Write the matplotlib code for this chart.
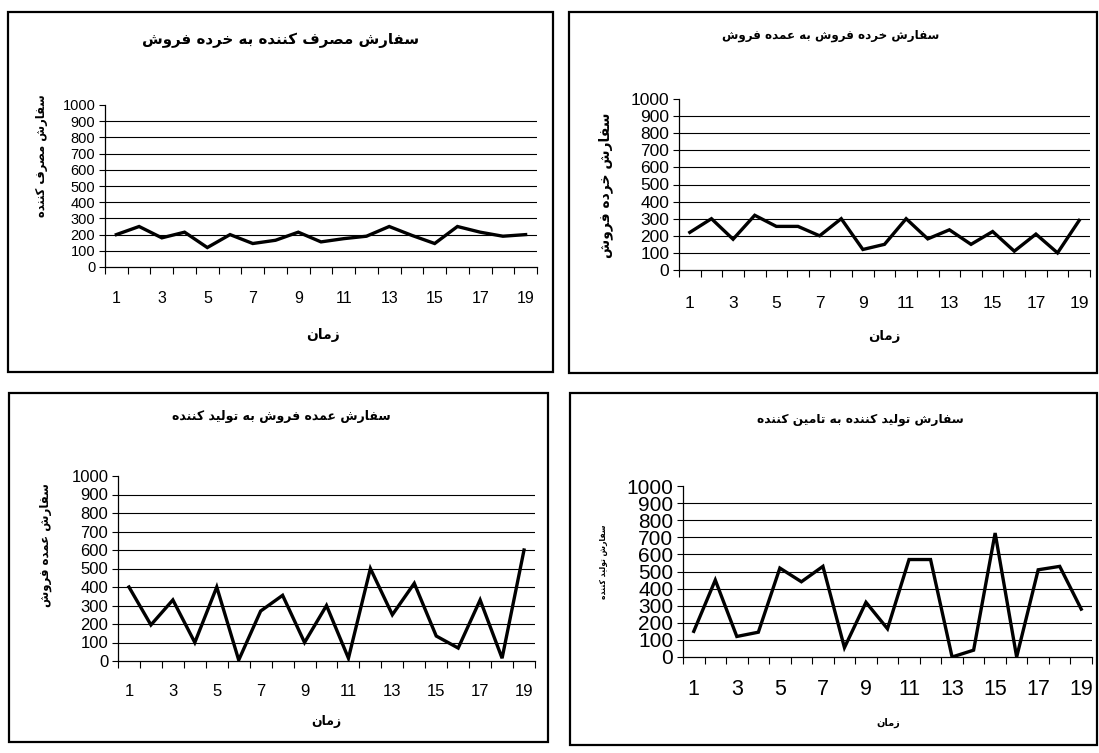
import matplotlib
matplotlib.use("Agg")
import matplotlib.pyplot as plt
from matplotlib.patches import Rectangle
from matplotlib.ticker import FixedLocator, NullFormatter

# ---------------------------------------------------------------- data
periods = list(range(1, 20))

consumer_orders = [200, 250, 180, 215, 120, 200, 145, 165, 215, 155,
                   175, 190, 250, 195, 145, 250, 215, 190, 200]
retailer_orders = [220, 300, 180, 320, 255, 255, 200, 300, 120, 150,
                   300, 182, 235, 150, 225, 110, 210, 100, 290]
wholesaler_orders = [400, 195, 330, 100, 400, 5, 270, 355, 100, 300,
                     15, 500, 250, 420, 135, 70, 330, 15, 600]
manufacturer_orders = [150, 450, 120, 145, 520, 440, 530, 55, 320, 165,
                       570, 570, 0, 40, 725, 0, 510, 530, 280]

titles = ["سفارش مصرف کننده به خرده فروش",
          "سفارش خرده فروش به عمده فروش",
          "سفارش عمده فروش به تولید کننده",
          "سفارش تولید کننده به تامین کننده"]
ylabels = ["سفارش مصرف کننده", "سفارش خرده فروش",
           "سفارش عمده فروش", "سفارش تولید کننده"]
xlabel = "زمان"
xtick_labels = [1, 3, 5, 7, 9, 11, 13, 15, 17, 19]
ytick_values = list(range(0, 1001, 100))

# ------------------------------------------- Persian contextual shaping
# (isolated, final, initial, medial) presentation forms
FORMS = {
    "ا": ("\uFE8D", "\uFE8E", None, None),
    "ب": ("\uFE8F", "\uFE90", "\uFE91", "\uFE92"),
    "ت": ("\uFE95", "\uFE96", "\uFE97", "\uFE98"),
    "خ": ("\uFEA5", "\uFEA6", "\uFEA7", "\uFEA8"),
    "د": ("\uFEA9", "\uFEAA", None, None),
    "ر": ("\uFEAD", "\uFEAE", None, None),
    "ز": ("\uFEAF", "\uFEB0", None, None),
    "س": ("\uFEB1", "\uFEB2", "\uFEB3", "\uFEB4"),
    "ش": ("\uFEB5", "\uFEB6", "\uFEB7", "\uFEB8"),
    "ص": ("\uFEB9", "\uFEBA", "\uFEBB", "\uFEBC"),
    "ع": ("\uFEC9", "\uFECA", "\uFECB", "\uFECC"),
    "ف": ("\uFED1", "\uFED2", "\uFED3", "\uFED4"),
    "ل": ("\uFEDD", "\uFEDE", "\uFEDF", "\uFEE0"),
    "م": ("\uFEE1", "\uFEE2", "\uFEE3", "\uFEE4"),
    "ن": ("\uFEE5", "\uFEE6", "\uFEE7", "\uFEE8"),
    "ه": ("\uFEE9", "\uFEEA", "\uFEEB", "\uFEEC"),
    "و": ("\uFEED", "\uFEEE", None, None),
    "ی": ("\uFBFC", "\uFBFD", "\uFBFE", "\uFBFF"),
    "ک": ("\uFB8E", "\uFB8F", "\uFB90", "\uFB91"),
}


def shape(text):
    out = []
    for i, ch in enumerate(text):
        if ch not in FORMS:
            out.append(ch)
            continue
        prev = text[i - 1] if i > 0 else ""
        nxt = text[i + 1] if i + 1 < len(text) else ""
        iso, fin, ini, med = FORMS[ch]
        join_prev = prev in FORMS and FORMS[prev][2] is not None
        join_next = nxt in FORMS and ini is not None
        if join_prev and join_next:
            out.append(med)
        elif join_prev:
            out.append(fin)
        elif join_next:
            out.append(ini)
        else:
            out.append(iso)
    return "".join(reversed(out))


# ------------------------------------------------------------- figure
W, H = 1099, 753
fig = plt.figure(figsize=(W / 100, H / 100), dpi=100)
fig.patch.set_facecolor("white")
NUM_FONT = ["Liberation Sans", "DejaVu Sans"]
FA_FONT = ["DejaVu Sans"]


def px_rect(left, top, right, bottom):
    return [left / W, 1 - bottom / H, (right - left) / W, (bottom - top) / H]


panels = [
    dict(data=consumer_orders, box=(8, 12, 553, 372), ax=(105, 105, 537, 267),
         ytick_fs=10.5, xtick_fs=11.5, xpad=17.5,
         title_xy=(281, 40), title_fs=10.8,
         ylab_xy=(41, 156), ylab_fs=8.3, xlab_xy=(323, 335), xlab_fs=10),
    dict(data=retailer_orders, box=(569, 12, 1097, 373), ax=(679, 99, 1090, 270),
         ytick_fs=12.5, xtick_fs=12.5, xpad=18.5,
         title_xy=(831, 35), title_fs=8.6,
         ylab_xy=(606, 185), ylab_fs=10, xlab_xy=(884, 336), xlab_fs=9.5),
    dict(data=wholesaler_orders, box=(9, 393, 548, 742), ax=(118, 476, 535, 661),
         ytick_fs=12, xtick_fs=12, xpad=16.3,
         title_xy=(281, 417), title_fs=9.0,
         ylab_xy=(45, 545), ylab_fs=8.5, xlab_xy=(326, 722), xlab_fs=9),
    dict(data=manufacturer_orders, box=(570, 393, 1097, 745), ax=(683, 486, 1092, 657),
         ytick_fs=15, xtick_fs=15.5, xpad=15.8,
         title_xy=(860, 420), title_fs=8.8,
         ylab_xy=(604, 562), ylab_fs=5.5, xlab_xy=(888, 723), xlab_fs=7),
]

for i, p in enumerate(panels):
    # chart-area frame
    l, t, r, b = p["box"]
    fig.patches.append(Rectangle((l / W, 1 - b / H), (r - l) / W, (b - t) / H,
                                 transform=fig.transFigure, fill=False,
                                 edgecolor="black", linewidth=1.6, zorder=0))

    ax = fig.add_axes(px_rect(*p["ax"]))
    ax.set_facecolor("none")
    ax.plot(periods, p["data"], color="black", linewidth=2.4,
            solid_joinstyle="miter", zorder=3)

    ax.set_xlim(0.5, 19.5)
    ax.set_ylim(0, 1000)

    # horizontal gridlines
    for v in ytick_values[1:-1]:
        ax.axhline(v, color="black", linewidth=0.8, zorder=1)

    for side in ("top", "right"):
        ax.spines[side].set_visible(False)
    for side in ("left", "bottom"):
        ax.spines[side].set_linewidth(0.9)

    ax.set_yticks(ytick_values)
    ax.set_yticklabels([str(v) for v in ytick_values],
                       fontsize=p["ytick_fs"], family=NUM_FONT)
    ax.tick_params(axis="y", direction="out", length=4, width=0.8, pad=3)

    ax.xaxis.set_major_locator(FixedLocator(xtick_labels))
    ax.set_xticklabels([str(v) for v in xtick_labels],
                       fontsize=p["xtick_fs"], family=NUM_FONT)
    ax.xaxis.set_minor_locator(FixedLocator([k + 0.5 for k in range(0, 20)]))
    ax.xaxis.set_minor_formatter(NullFormatter())
    ax.tick_params(axis="x", which="major", length=0, pad=p["xpad"])
    ax.tick_params(axis="x", which="minor", direction="out", length=5, width=0.8)

    tx, ty = p["title_xy"]
    fig.text(tx / W, 1 - ty / H, shape(titles[i]), ha="center", va="center",
             fontsize=p["title_fs"], fontweight="bold", family=FA_FONT)
    yx, yy = p["ylab_xy"]
    fig.text(yx / W, 1 - yy / H, shape(ylabels[i]), ha="center", va="center",
             rotation=90, fontsize=p["ylab_fs"], fontweight="bold", family=FA_FONT)
    xx, xy = p["xlab_xy"]
    fig.text(xx / W, 1 - xy / H, shape(xlabel), ha="center", va="center",
             fontsize=p["xlab_fs"], fontweight="bold", family=FA_FONT)

fig.savefig("out.png", dpi=100, facecolor="white")
